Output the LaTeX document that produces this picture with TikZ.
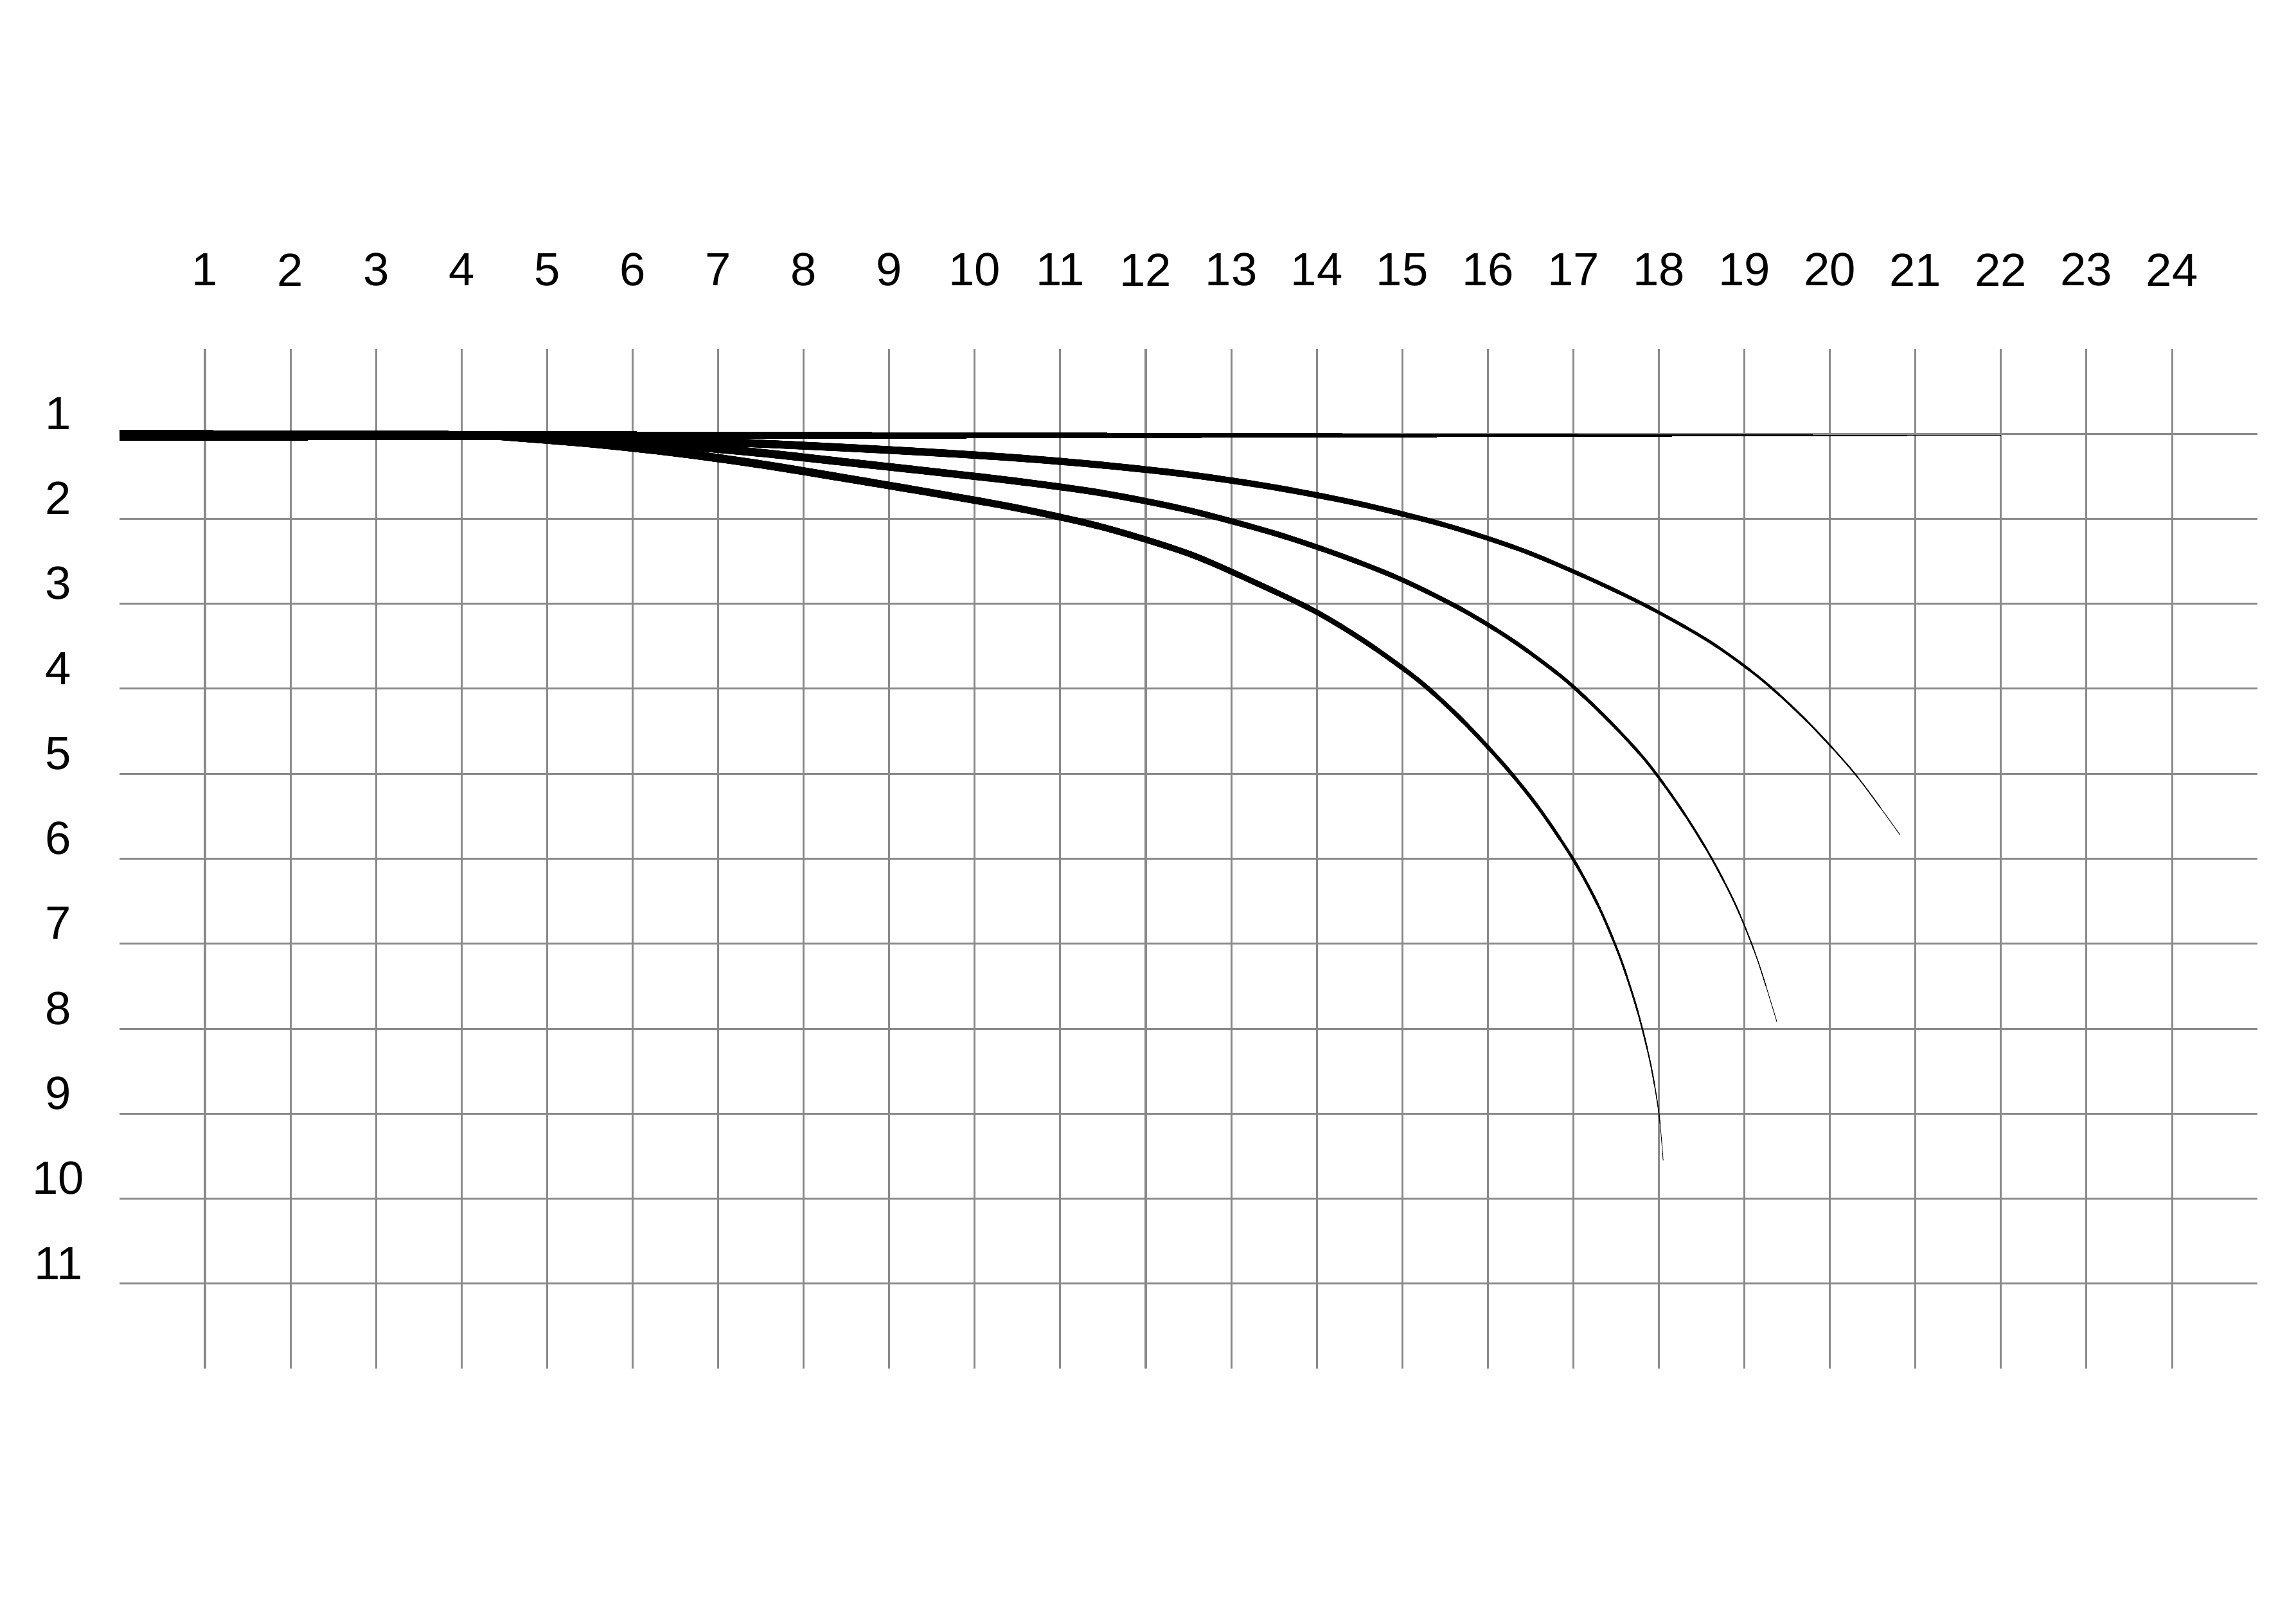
\documentclass[tikz,border=0pt]{standalone}
\usepackage{fontspec}
\setmainfont{Liberation Sans}
\usepackage{xcolor}
\usepackage{tikz}

\definecolor{gridgray}{RGB}{138,138,138}

% #1 start width (pt), #2 profile in \taperfrac, #3 path length (pt), #4 path
\newcommand{\taperdraw}[4]{%
    \foreach \k in {0,...,39}{
        \pgfmathsetmacro\taperfrac{1-\k/40}
        \pgfmathsetmacro\taperw{#1*(1-#2)+0.2}
        \pgfmathsetmacro\taperlen{\taperfrac*#3}
        \draw[line width=\taperw pt, dash pattern=on \taperlen pt off 2000pt] #4;
    }}

\begin{document}
\begin{tikzpicture}[
    x=1cm, y=-0.994cm,
    gridline/.style={draw=gridgray, line width=0.65pt},
    collabel/.style={inner sep=0pt, font=\fontsize{15.5}{18}\selectfont},
    rowlabel/.style={inner sep=0pt, font=\fontsize{15.5}{18}\selectfont},
]
\path[use as bounding box, fill=white] (-1.397,-4.103) rectangle (25.45,14.99);

% grid
\foreach \c in {1,...,24}
    \draw[gridline] (\c,0) -- (\c,12);
\foreach \r in {1,...,11}
    \draw[gridline] (0,\r) -- (25,\r);

% labels
\foreach \c in {1,...,24}
    \node[collabel](c\c) at (\c,-0.93){\c};
\foreach \r in {1,...,11}
    \node[rowlabel](r\r) at (-0.715,\r-0.24){\r};

% tapered lines
\taperdraw{3.5}{\taperfrac}{626}{(0,1.02) -- (22,1.02)}
\taperdraw{2.5}{\taperfrac*\taperfrac}{507}{plot[smooth] coordinates {(4.4,1.02)
    (5.5,1.046) (6.5,1.077) (7.5,1.117) (8.5,1.165) (9.5,1.22) (10.5,1.285) (11.5,1.37)
    (12.5,1.48) (13.5,1.63) (14.5,1.825) (15.5,2.075) (16.4,2.37) (17.2,2.71) (17.9,3.05)
    (18.6,3.45) (19.2,3.89) (19.75,4.40) (20.3,5.01) (20.82,5.72)}}
\taperdraw{2.7}{\taperfrac*sqrt(\taperfrac)}{507}{plot[smooth] coordinates {(4.4,1.02)
    (5.5,1.07) (6.5,1.135) (7.5,1.225) (8.5,1.335) (9.5,1.445) (10.5,1.56) (11.5,1.70)
    (12.5,1.90) (13.5,2.17) (14.3,2.44) (15,2.72) (15.7,3.07) (16.3,3.44) (16.9,3.89)
    (17.4,4.36) (17.85,4.85) (18.25,5.40) (18.6,5.965) (18.9,6.55) (19.15,7.18) (19.38,7.92)}}
\taperdraw{2.7}{\taperfrac*sqrt(\taperfrac)}{507}{plot[smooth] coordinates {(4.4,1.02)
    (5.5,1.11) (6.5,1.22) (7.5,1.36) (8.5,1.525) (9.5,1.695) (10.5,1.875) (11.5,2.10)
    (12.5,2.41) (13.3,2.76) (14,3.10) (14.6,3.47) (15.2,3.91) (15.7,4.37) (16.2,4.91)
    (16.6,5.41) (17,6.01) (17.3,6.57) (17.55,7.17) (17.75,7.79) (17.9,8.40) (18,8.99)
    (18.05,9.55)}}
\end{tikzpicture}
\end{document}
